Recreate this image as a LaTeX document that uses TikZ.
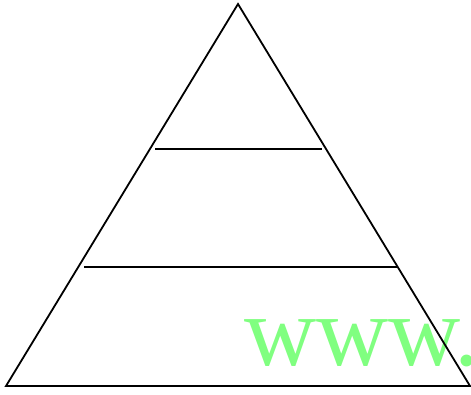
\documentclass[tikz,border=0pt]{standalone}
\usepackage{fontspec}
\setmainfont{Liberation Serif}
\definecolor{webgreen}{RGB}{128,255,128}

\begin{document}
\begin{tikzpicture}[
    x=1pt, y=1pt,
    edge/.style={draw=black, line width=1.8pt, line join=miter},
    level/.style={draw=black, line width=1.8pt},
    mark text/.style={anchor=base west, inner sep=0pt, text=webgreen, font=\fontsize{100}{100}\selectfont}
]
\useasboundingbox (0,0) rectangle (471,394);

% Watermark text (drawn first, lines go over it)
\node[mark text] (web) at (244,29) {www.};

% Pyramid outline
\coordinate (top) at (238,390);
\coordinate (left) at (6,8);
\coordinate (right) at (470,8);
\draw[edge] (left) -- (top) -- (right) -- cycle;

% Level lines
\coordinate (a1) at (155,245);
\coordinate (a2) at (322,245);
\coordinate (b1) at (84,127);
\coordinate (b2) at (398,127);
\draw[level] (a1) -- (a2);
\draw[level] (b1) -- (b2);

\end{tikzpicture}
\end{document}
